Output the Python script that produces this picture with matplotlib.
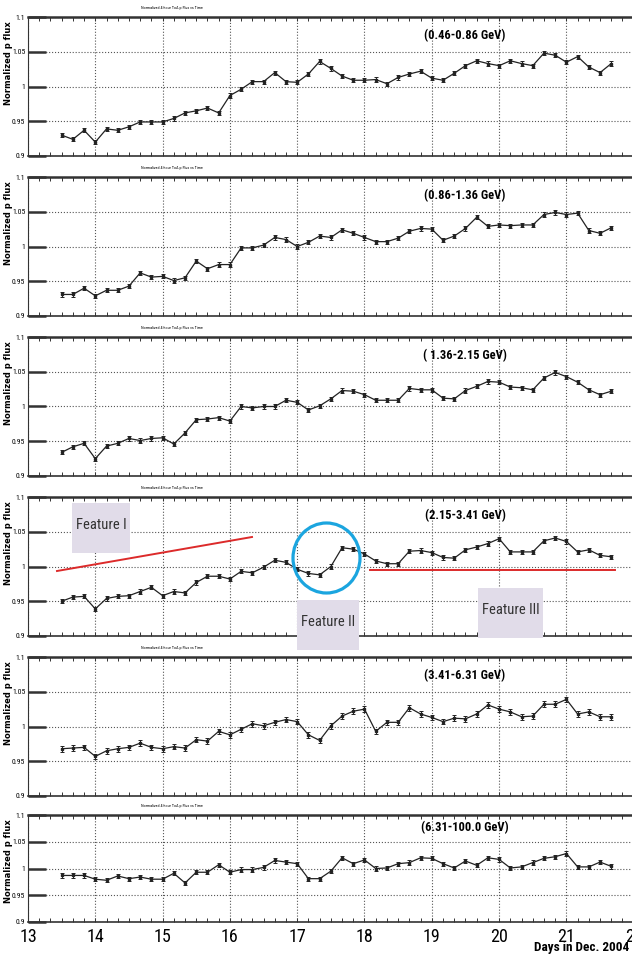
import numpy as np
import matplotlib.pyplot as plt
from matplotlib.patches import Rectangle, Ellipse
from matplotlib.lines import Line2D
from matplotlib.ticker import MultipleLocator, FixedLocator

narrow = ['Roboto Condensed', 'Open Sans Condensed', 'Liberation Sans Narrow',
          'Liberation Sans', 'DejaVu Sans']
plt.rcParams['font.family'] = narrow

# 4-hour bins, Dec 13.5 .. Dec 21.67
days = np.arange(13.5, 21.7, 1 / 6)

flux_1 = [0.930, 0.924, 0.937, 0.920, 0.939, 0.937, 0.942, 0.949, 0.949, 0.949,
          0.954, 0.962, 0.965, 0.969, 0.962, 0.987, 0.996, 1.007, 1.007, 1.020,
          1.007, 1.006, 1.018, 1.036, 1.026, 1.015, 1.009, 1.009, 1.010, 1.004,
          1.013, 1.018, 1.022, 1.012, 1.009, 1.019, 1.030, 1.037, 1.033, 1.030,
          1.037, 1.033, 1.030, 1.048, 1.045, 1.035, 1.043, 1.028, 1.020, 1.033]
flux_2 = [0.931, 0.931, 0.940, 0.929, 0.937, 0.937, 0.943, 0.962, 0.956, 0.957,
          0.951, 0.955, 0.979, 0.968, 0.974, 0.974, 0.998, 0.998, 1.002, 1.013,
          1.010, 1.000, 1.006, 1.015, 1.013, 1.024, 1.019, 1.013, 1.007, 1.007,
          1.012, 1.022, 1.026, 1.025, 1.009, 1.015, 1.026, 1.042, 1.029, 1.031,
          1.030, 1.031, 1.031, 1.046, 1.049, 1.046, 1.048, 1.023, 1.019, 1.027]
flux_3 = [0.934, 0.942, 0.947, 0.925, 0.943, 0.947, 0.954, 0.951, 0.954, 0.955,
          0.946, 0.962, 0.981, 0.982, 0.984, 0.979, 1.000, 0.998, 1.000, 1.000,
          1.009, 1.006, 0.995, 1.001, 1.011, 1.023, 1.022, 1.017, 1.009, 1.009,
          1.009, 1.026, 1.024, 1.024, 1.012, 1.011, 1.023, 1.029, 1.036, 1.035,
          1.028, 1.027, 1.024, 1.041, 1.049, 1.043, 1.035, 1.024, 1.017, 1.022]
flux_4 = [0.950, 0.956, 0.957, 0.939, 0.954, 0.957, 0.958, 0.964, 0.970, 0.958,
          0.964, 0.962, 0.977, 0.986, 0.986, 0.982, 0.993, 0.991, 0.999, 1.009,
          1.006, 0.996, 0.990, 0.988, 1.000, 1.027, 1.025, 1.018, 1.008, 1.004,
          1.004, 1.022, 1.023, 1.020, 1.013, 1.012, 1.024, 1.028, 1.033, 1.040,
          1.021, 1.021, 1.021, 1.037, 1.041, 1.036, 1.021, 1.024, 1.016, 1.014]
flux_5 = [0.968, 0.969, 0.970, 0.957, 0.965, 0.968, 0.970, 0.976, 0.970, 0.968,
          0.971, 0.969, 0.981, 0.979, 0.993, 0.988, 0.996, 1.004, 1.001, 1.006,
          1.010, 1.007, 0.988, 0.980, 1.001, 1.015, 1.022, 1.025, 0.993, 1.006,
          1.006, 1.027, 1.018, 1.013, 1.007, 1.012, 1.011, 1.018, 1.031, 1.025,
          1.021, 1.014, 1.015, 1.032, 1.032, 1.039, 1.018, 1.021, 1.014, 1.014]
flux_6 = [0.987, 0.987, 0.987, 0.980, 0.978, 0.986, 0.981, 0.984, 0.980, 0.980,
          0.991, 0.973, 0.993, 0.993, 1.007, 0.993, 0.998, 0.998, 1.002, 1.015,
          1.012, 1.009, 0.981, 0.981, 0.995, 1.020, 1.009, 1.016, 1.000, 1.001,
          1.009, 1.011, 1.020, 1.019, 1.009, 1.001, 1.014, 1.006, 1.020, 1.017,
          1.001, 1.003, 1.011, 1.019, 1.022, 1.028, 1.003, 1.003, 1.012, 1.004]

fluxes = [flux_1, flux_2, flux_3, flux_4, flux_5, flux_6]
errs = [0.003, 0.003, 0.003, 0.003, 0.004, 0.004]
energy_labels = ['(0.46-0.86 GeV)', '(0.86-1.36 GeV)', '( 1.36-2.15 GeV)',
                 '(2.15-3.41 GeV)', '(3.41-6.31 GeV)', '(6.31-100.0 GeV)']
y_ticks = [0.9, 0.95, 1.0, 1.05, 1.1]
y_ticklabels = ['0.9', '0.95', '1', '1.05', '1.1']
x_ticks = [13, 14, 15, 16, 17, 18, 19, 20, 21, 22]

W, H = 632, 958
fig = plt.figure(figsize=(W / 100, H / 100), dpi=100)

# panel top / bottom in pixels
panels = [(17, 156), (177, 316), (337, 476), (497, 636), (657, 796), (815, 922)]
left, width = 28, 605.7

def fx(x):
    return x / W

def fy(y):
    return 1 - y / H

for i, (top, bot) in enumerate(panels):
    ax = fig.add_axes([fx(left), fy(bot), width / W, (bot - top) / H])
    ax.errorbar(days, fluxes[i], yerr=errs[i], color='#222222', lw=0.9,
                marker='s', ms=1.7, capsize=1.5, elinewidth=0.7, capthick=0.7)
    ax.set_xlim(13, 22)
    ax.set_ylim(0.9, 1.1)
    ax.xaxis.set_major_locator(FixedLocator(x_ticks))
    ax.xaxis.set_minor_locator(MultipleLocator(1 / 6))
    ax.set_yticks(y_ticks)
    ax.set_yticklabels(y_ticklabels)
    ax.tick_params(axis='x', which='both', direction='in', top=True, bottom=True,
                   length=3, width=0.7, color='#333333')
    ax.tick_params(axis='y', direction='in', length=13, width=1.8, left=True,
                   right=False, labelsize=5.5, pad=2, color='#333333')
    ax.grid(True, ls=':', color='#555555', lw=0.8)
    for s in ax.spines.values():
        s.set_color('#333333')
    ax.spines['top'].set_linewidth(1.8)
    ax.spines['bottom'].set_linewidth(1.2)
    ax.spines['left'].set_linewidth(0.8)
    ax.spines['right'].set_visible(False)
    if i < 5:
        ax.tick_params(axis='x', labelbottom=False)
    else:
        ax.tick_params(axis='x', labelsize=13, pad=4)
    ax.text(0.7215, 0.87 if i < 5 else 0.885, energy_labels[i], transform=ax.transAxes,
            ha='center', va='center', fontsize=9, fontweight='bold')
    # tiny panel title
    fig.text(fx(172), fy(top - 9), 'Normalized 4-hour ToA p Flux vs Time',
             ha='center', va='center', fontsize=3)
    fig.text(fx(9), fy(top + 46), 'Normalized p flux', rotation=90,
             ha='center', va='center', fontsize=6, fontweight='bold',
             family='DejaVu Sans')

fig.text(fx(629), fy(947), 'Days in Dec. 2004', ha='right', va='center',
         fontsize=9.5, fontweight='bold')

# annotations on 2.15-3.41 GeV panel
red = '#dc2a2a'
fig.add_artist(Line2D([fx(57), fx(252)], [fy(571), fy(537)], color=red, lw=1.4))
fig.add_artist(Line2D([fx(370), fx(615)], [fy(570), fy(570)], color=red, lw=1.4))
fig.add_artist(Ellipse((fx(326.5), fy(558)), 67 / W, 70 / H, fill=False,
                       ec='#1ba5df', lw=2.3, zorder=5))

boxes = [((72, 503, 130, 553), 'Feature I'),
         ((297, 600, 359, 650), 'Feature II'),
         ((478, 588, 543, 638), 'Feature III')]
for (x0, y0, x1, y1), txt in boxes:
    fig.add_artist(Rectangle((fx(x0), fy(y1)), (x1 - x0) / W, (y1 - y0) / H,
                             fc='#e1dce9', ec='none', zorder=6))
    fig.text(fx((x0 + x1) / 2), fy((y0 + y1) / 2 - 3), txt, ha='center', va='center',
             fontsize=10.5, color='#333333', zorder=7)

fig.savefig('out.png', dpi=100)
